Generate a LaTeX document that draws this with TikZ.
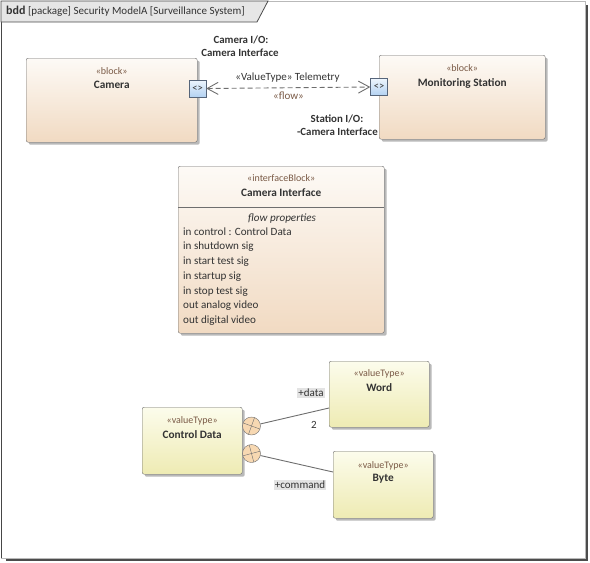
\documentclass[tikz,border=0pt]{standalone}
\usepackage{fontspec}
\setmainfont{Carlito}
\usetikzlibrary{arrows.meta,shadows,calc}
\definecolor{blktop}{HTML}{FDFAF6}
\definecolor{blkbot}{HTML}{F1DAC2}
\definecolor{vttop}{HTML}{FCFCEC}
\definecolor{vtbot}{HTML}{EEEBB3}
\definecolor{porttop}{HTML}{EDF5FD}
\definecolor{portbot}{HTML}{B3D2F2}
\definecolor{portdraw}{HTML}{56657A}
\definecolor{edgec}{HTML}{6E6E6E}
\definecolor{stereoc}{HTML}{7A5A46}
\definecolor{txtc}{HTML}{333333}
\definecolor{tabc}{HTML}{E6E6E6}
\definecolor{circc}{HTML}{F7D8B2}
\definecolor{lblbg}{HTML}{E3E3E3}
\begin{document}
\begin{tikzpicture}[x=1pt,y=-1pt,
  every node/.style={font=\fontsize{11}{13}\selectfont, text=txtc},
  blk/.style={draw=edgec, rounded corners=2pt, top color=blktop, bottom color=blkbot, anchor=north west,
    drop shadow={shadow xshift=2.5pt, shadow yshift=-2.5pt, fill=gray!55, opacity=1}},
  vtblk/.style={blk, top color=vttop, bottom color=vtbot},
  stereo/.style={text=stereoc, font=\fontsize{10}{12}\selectfont, inner sep=0pt},
  nametxt/.style={font=\bfseries\fontsize{11.3}{13}\selectfont, inner sep=0pt},
  iolbl/.style={font=\bfseries\fontsize{10.9}{13}\selectfont, inner sep=0pt},
  porttxt/.style={draw=portdraw, top color=porttop, bottom color=portbot, minimum size=17pt, inner sep=0pt, font=\fontsize{10.5}{11}\selectfont},
  conn/.style={draw=edgec, line width=0.9pt},
  lbl/.style={inner sep=0.5pt},
  graylbl/.style={fill=lblbg, inner sep=1pt},
  bodytxt/.style={anchor=west, inner sep=0pt, font=\fontsize{11.1}{13}\selectfont},
  contain/.style={circle, draw=edgec, fill=circc, minimum size=18pt, inner sep=0pt}
]
\useasboundingbox (0,0) rectangle (590,563);
% frame
\draw[gray!60!black, line width=1.6pt] (6,560) -- (587,560) -- (587,5);
\draw[gray!55, line width=1pt] (1,1) rectangle (585,558);
\draw[gray!55!black, line width=0.9pt] (1,1) -- (1,558);
\draw[draw=gray!60!black, fill=tabc, line width=0.8pt] (1,1) -- (268,1) -- (257,22) -- (1,22) -- cycle;
\node[anchor=west, inner sep=0pt] (title) at (6,11.5) {{\bfseries\fontsize{12}{13}\selectfont bdd} [package] Security ModelA [Surveillance System]};

% blocks
\node[blk, minimum width=171pt, minimum height=84pt] (cam) at (26,58) {};
\node[stereo] (camst) at ($(cam.north)+(0,13)$) {«block»};
\node[nametxt] (camnm) at ($(cam.north)+(0,27)$) {Camera};

\node[blk, minimum width=166pt, minimum height=84pt] (sta) at (379,55) {};
\node[stereo] (stast) at ($(sta.north)+(0,13)$) {«block»};
\node[nametxt] (stanm) at ($(sta.north)+(0,28)$) {Monitoring Station};

\node[porttxt] (cp) at (197.5,88.5) {<>};
\node[porttxt] (sp) at (379,87) {<>};

\draw[conn, dashed, dash pattern=on 5pt off 3pt, {Straight Barb[length=11pt,width=12pt]}-{Straight Barb[length=11pt,width=12pt]}] (cp.east) -- (sp.west);
\node[lbl] (tel) at (287.5,78) {«ValueType» Telemetry};
\node[lbl, text=stereoc] (flow) at (288.5,96) {«flow»};
\node[iolbl] (cio1) at (241,40) {Camera I/O:};
\node[iolbl] (cio2) at (240,53) {Camera Interface};
\node[iolbl] (sio1) at (337,119) {Station I/O:};
\node[iolbl, anchor=east] (sio2) at (378,132) {-Camera Interface};

% interface block
\node[blk, minimum width=206pt, minimum height=167pt] (ib) at (178,166) {};
\draw[edgec] (178,207) -- (384,207);
\node[stereo] (ibst) at ($(ib.north)+(0,12)$) {«interfaceBlock»};
\node[nametxt] (ibnm) at ($(ib.north)+(0,27)$) {Camera Interface};
\node[inner sep=0pt, font=\itshape\fontsize{11.1}{13}\selectfont] (fp) at (282,219) {flow properties};
\node[bodytxt] (f1) at (183,232) {in control : Control Data};
\node[bodytxt] (f2) at (183,247) {in shutdown sig};
\node[bodytxt] (f3) at (183,262) {in start test sig};
\node[bodytxt] (f4) at (183,277) {in startup sig};
\node[bodytxt] (f5) at (183,291.5) {in stop test sig};
\node[bodytxt] (f6) at (183,306) {out analog video};
\node[bodytxt] (f7) at (183,321) {out digital video};

% value types
\node[vtblk, minimum width=100pt, minimum height=67pt] (cd) at (142,407) {};
\node[stereo] (cdst) at ($(cd.north)+(0,14)$) {«valueType»};
\node[nametxt] (cdnm) at ($(cd.north)+(0,28)$) {Control Data};

\node[vtblk, minimum width=100pt, minimum height=66pt] (wd) at (329,361) {};
\node[stereo] (wdst) at ($(wd.north)+(0,13)$) {«valueType»};
\node[nametxt] (wdnm) at ($(wd.north)+(0,27)$) {Word};

\node[vtblk, minimum width=100pt, minimum height=67pt] (by) at (333,451) {};
\node[stereo] (byst) at ($(by.north)+(0,15)$) {«valueType»};
\node[nametxt] (bynm) at ($(by.north)+(0,28)$) {Byte};

\coordinate (wt) at (329,408);
\coordinate (bt) at (333,472);
\node[contain] (c1) at (251.5,426) {};
\node[contain] (c2) at (251.5,453.5) {};
\draw[edgec] ($(c1.center)+(20:9)$) -- ($(c1.center)+(200:9)$);
\draw[edgec] ($(c1.center)+(110:9)$) -- ($(c1.center)+(290:9)$);
\draw[edgec] ($(c2.center)+(-15:9)$) -- ($(c2.center)+(165:9)$);
\draw[edgec] ($(c2.center)+(75:9)$) -- ($(c2.center)+(255:9)$);
\draw[conn] (c1) -- (wt);
\draw[conn] (c2) -- (bt);
\node[graylbl] (dl) at (311,393) {+data};
\node[lbl] (ml) at (314,425) {2};
\node[graylbl] (cl) at (300,485) {+command};
\end{tikzpicture}
\end{document}
